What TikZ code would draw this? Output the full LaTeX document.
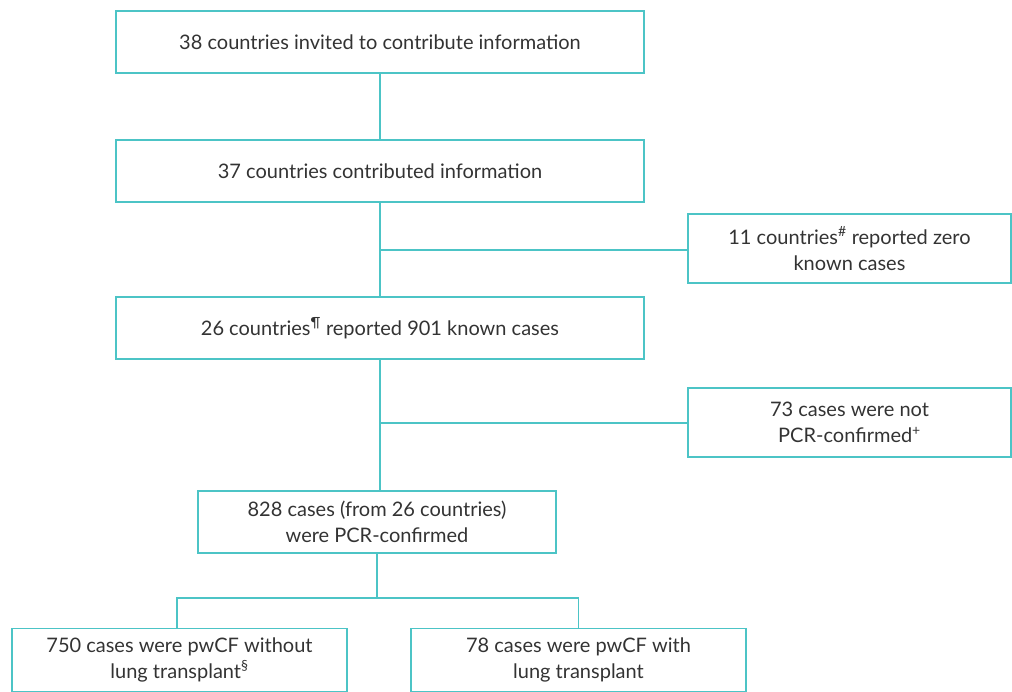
\documentclass[tikz,border=0pt]{standalone}
\usepackage{fontspec}
\setmainfont{Lato}
\definecolor{teal1}{HTML}{4CC4C6}
\definecolor{txt}{HTML}{333333}
\begin{document}
\begin{tikzpicture}[x=1pt,y=-1pt,
  box/.style={draw=teal1,line width=1.2pt,text=txt,align=center,inner sep=0pt,
    font=\fontsize{20}{26}\selectfont},
  link/.style={draw=teal1,line width=1.2pt}]
\useasboundingbox (0,0) rectangle (1012,691);
\node[box,minimum width=528,minimum height=62] (b1) at (380,42) {38 countries invited to contribute information};
\node[box,minimum width=528,minimum height=62] (b2) at (380,171) {37 countries contributed information};
\node[box,minimum width=528,minimum height=62] (b3) at (380,328) {26 countries\textsuperscript{¶} reported 901 known cases};
\node[box,minimum width=323,minimum height=69] (sa) at (849.5,248.5) {11 countries\textsuperscript{\#} reported zero\\known cases};
\node[box,minimum width=323,minimum height=69] (sb) at (849.5,422.5) {73 cases were not\\PCR-confirmed\textsuperscript{+}};
\node[box,minimum width=358,minimum height=62] (b4) at (377,522) {828 cases (from 26 countries)\\were PCR-confirmed};
\node[box,minimum width=335,minimum height=63,anchor=north] (b5) at (179.5,627.5) {750 cases were pwCF without\\lung transplant\textsuperscript{§}};
\node[box,minimum width=335,minimum height=63,anchor=north] (b6) at (578.5,627.5) {78 cases were pwCF with\\lung transplant};
\coordinate (ja) at (380,250);
\coordinate (jb) at (380,423);
\coordinate (jc) at (377,598);
\draw[link] (b1.south) -- (b2.north);
\draw[link] (b2.south) -- (b3.north);
\draw[link] (ja) -- (ja -| sa.west);
\draw[link] (b3.south) -- (b3.south |- b4.north);
\draw[link] (jb) -- (jb -| sa.west);
\draw[link] (b4.south) -- (jc);
\draw[link] (b5.north -| 177,0) |- (jc) -| (b6.north);
\end{tikzpicture}
\end{document}
